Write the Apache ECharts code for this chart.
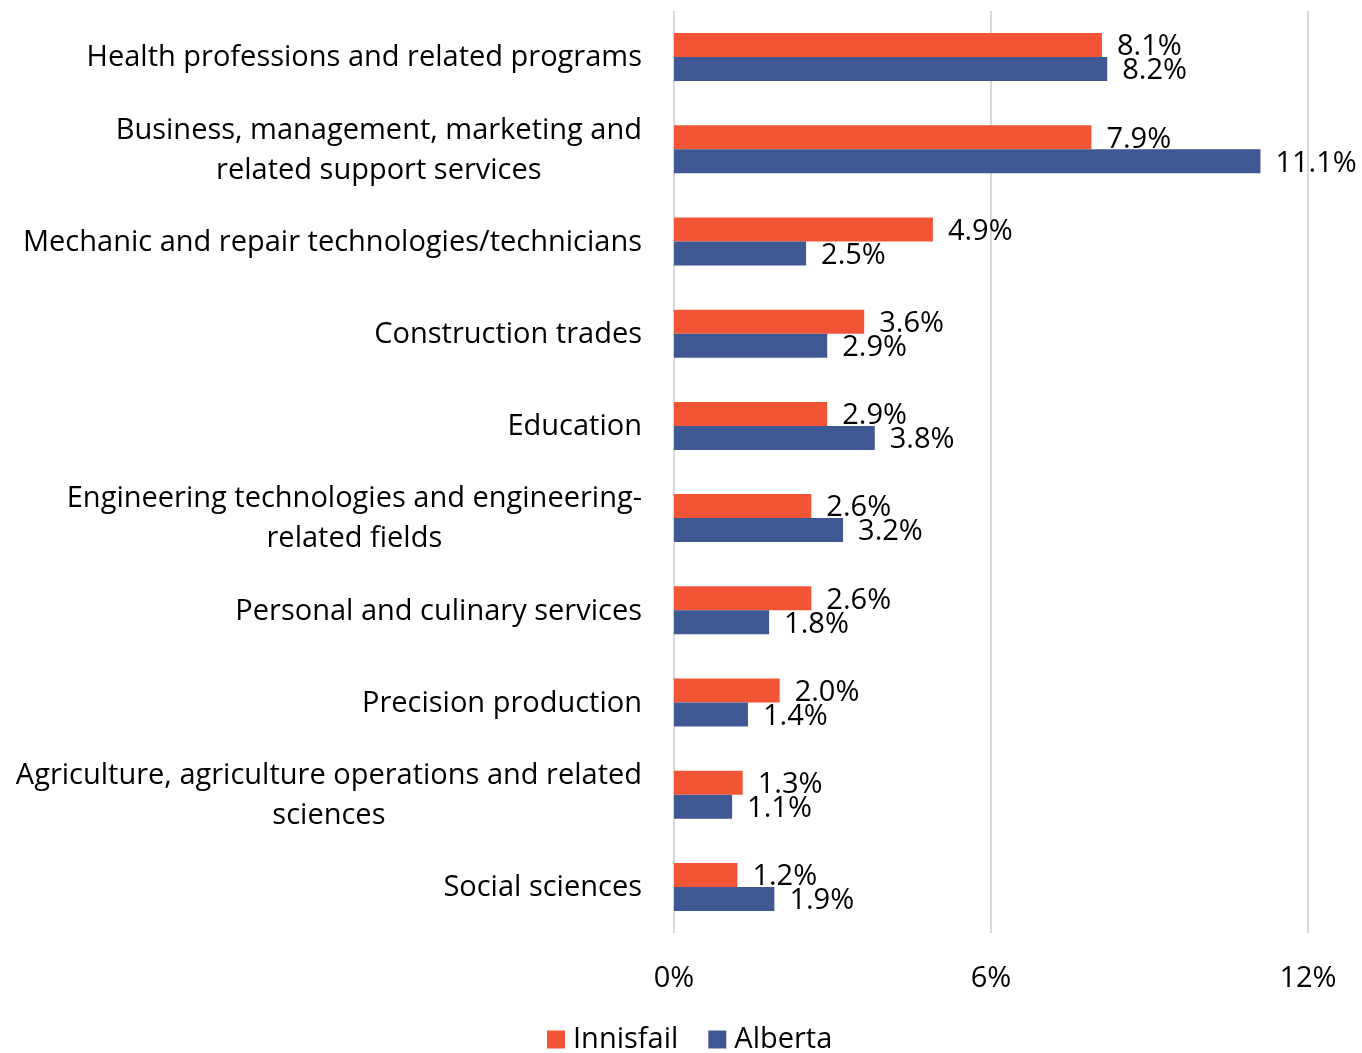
<!DOCTYPE html>
<html>
<head>
<meta charset="utf-8">
<script src="https://cdn.jsdelivr.net/npm/echarts@6/dist/echarts.min.js"></script>
<style>
  html, body { margin: 0; padding: 0; background: #fff; }
  #chart { width: 1362px; height: 1053px; }
</style>
</head>
<body>
<div id="chart"></div>
<script>
// categories, top to bottom
const categories = [
  "Health professions and related programs",
  "Business, management, marketing and\nrelated support services",
  "Mechanic and repair technologies/technicians",
  "Construction trades",
  "Education",
  "Engineering technologies and engineering-\nrelated fields",
  "Personal and culinary services",
  "Precision production",
  "Agriculture, agriculture operations and related\nsciences",
  "Social sciences"
];
const innisfail = [8.1, 7.9, 4.9, 3.6, 2.9, 2.6, 2.6, 2.0, 1.3, 1.2];
const alberta = [8.2, 11.1, 2.5, 2.9, 3.8, 3.2, 1.8, 1.4, 1.1, 1.9];
const seriesNames = ["Innisfail", "Alberta"];
const colors = ["#f15535", "#3f5894"];

const font = "'Open Sans', sans-serif";
const chart = echarts.init(document.getElementById("chart"));

const valueLabel = {
  show: true,
  position: "right",
  distance: 15,
  offset: [0, 2],
  color: "#000",
  fontFamily: font,
  fontSize: 29,
  formatter: (p) => p.value.toFixed(1) + "%"
};

chart.setOption({
  animation: false,
  textStyle: { fontFamily: font },
  grid: { left: 674, right: 54, top: 11, bottom: 120, containLabel: false, outerBoundsMode: "none" },
  legend: {
    top: 1020,
    left: 542,
    itemWidth: 18,
    itemHeight: 18,
    itemGap: 30,
    icon: "rect",
    textStyle: { color: "#000", fontFamily: font, fontSize: 29, padding: [0, 0, 0, 3] },
    data: seriesNames
  },
  xAxis: {
    type: "value",
    min: 0,
    max: 12,
    interval: 6,
    axisLine: { show: false },
    axisTick: { show: false },
    splitLine: { lineStyle: { color: "#d9d9d9", width: 2 } },
    axisLabel: {
      formatter: "{value}%",
      color: "#000",
      fontFamily: font,
      fontSize: 29,
      margin: 31
    }
  },
  yAxis: {
    type: "category",
    inverse: true,
    data: categories,
    axisLine: { show: false },
    axisTick: { show: false },
    axisLabel: {
      margin: 32,
      color: "#000",
      fontFamily: font,
      fontSize: 29,
      formatter: (v) => v.split("\n").map((l) => "{c|" + l + "}").join("\n"),
      rich: {
        c: { align: "center", fontSize: 29, fontFamily: font, color: "#000", lineHeight: 40, padding: [2, 0, 0, 0] }
      }
    }
  },
  series: [
    {
      name: seriesNames[0],
      type: "bar",
      data: innisfail,
      barWidth: 24,
      barGap: "0%",
      itemStyle: { color: colors[0] },
      label: valueLabel
    },
    {
      name: seriesNames[1],
      type: "bar",
      data: alberta,
      barWidth: 24,
      barGap: "0%",
      itemStyle: { color: colors[1] },
      label: valueLabel
    }
  ]
});
</script>
</body>
</html>
